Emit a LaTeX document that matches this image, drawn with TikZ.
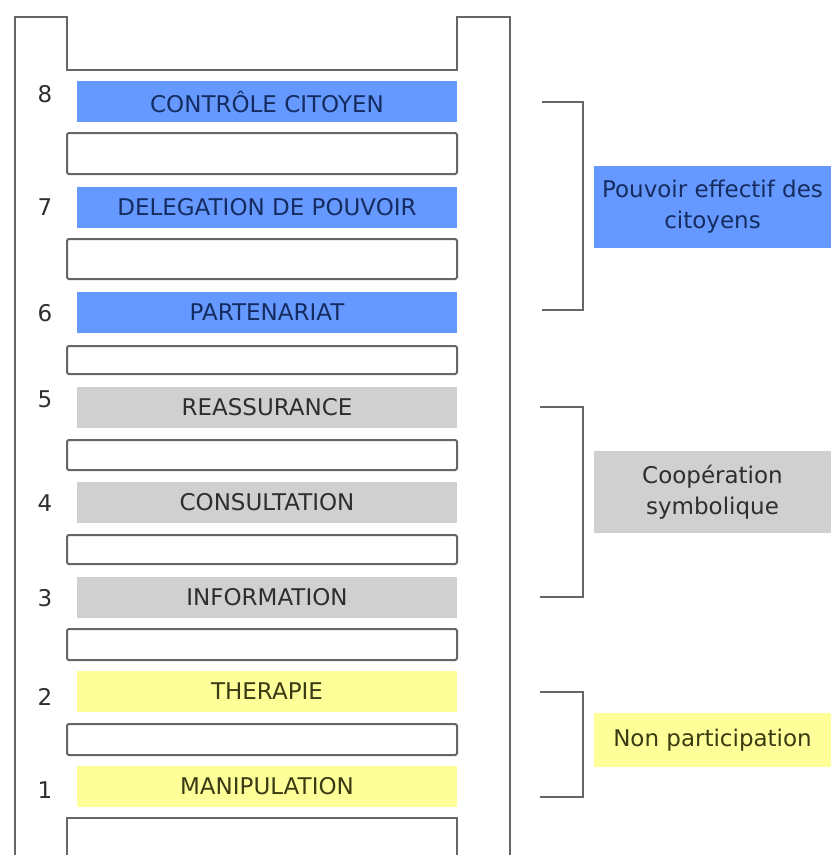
\documentclass[tikz,border=0pt]{standalone}
\usepackage{fontspec}
\setmainfont{DejaVu Sans}
\usepackage{tikz}
\usetikzlibrary{positioning}

\definecolor{barblue}{HTML}{6699FF}
\definecolor{bargray}{HTML}{D0D0D0}
\definecolor{baryellow}{HTML}{FFFF99}
\definecolor{txtblue}{HTML}{152C60}
\definecolor{txtgray}{HTML}{2E2E2E}
\definecolor{txtyellow}{HTML}{3A3A15}
\definecolor{linegray}{HTML}{666666}

\tikzset{
  big/.style={font=\fontsize{23}{31}\selectfont},
  bar/.style={big, minimum width=380pt, minimum height=41pt, inner sep=0pt},
  bluebar/.style={bar, fill=barblue, text=txtblue},
  graybar/.style={bar, fill=bargray, text=txtgray},
  yellowbar/.style={bar, fill=baryellow, text=txtyellow},
  rung/.style={draw=linegray, line width=2pt, fill=white, rounded corners=1.5pt},
  level/.style={big, text=txtgray, inner sep=0pt},
  bracket/.style={draw=linegray, line width=2pt},
  groupbox/.style={big, minimum width=237pt, inner sep=0pt, align=center}
}

\begin{document}
\begin{tikzpicture}[x=1pt, y=-1pt]
  \useasboundingbox (0,0) rectangle (831,855);

  % Ladder frame
  \draw[linegray, line width=2.2pt] (15,855) -- (15,17) -- (67,17) -- (67,70)
    -- (457,70) -- (457,17) -- (510,17) -- (510,855);

  % Empty rungs
  \draw[rung] (67,133) rectangle (457,174);
  \draw[rung] (67,239) rectangle (457,279);
  \draw[rung] (67,346) rectangle (457,374);
  \draw[rung] (67,440) rectangle (457,470);
  \draw[rung] (67,535) rectangle (457,564);
  \draw[rung] (67,629) rectangle (457,660);
  \draw[rung] (67,724) rectangle (457,755);
  \draw[rung, rounded corners=0pt] (67,856) -- (67,818) -- (457,818) -- (457,856);

  % Citizen power
  \node[bluebar] (controle) at (267,101.5) {CONTRÔLE CITOYEN};
  \node[bluebar] (delegation) at (267,207.5) {DELEGATION DE POUVOIR};
  \node[bluebar] (partenariat) at (267,312.5) {PARTENARIAT};

  % Tokenism
  \node[graybar] (reassurance) at (267,407.5) {REASSURANCE};
  \node[graybar] (consultation) at (267,502) {CONSULTATION};
  \node[graybar] (information) at (267,597) {INFORMATION};

  % Non participation
  \node[yellowbar] (therapie) at (267,691.5) {THERAPIE};
  \node[yellowbar] (manipulation) at (267,786) {MANIPULATION};

  % Level numbers
  \node[level] (n8) at (45,94) {8};
  \node[level] (n7) at (45,207) {7};
  \node[level] (n6) at (45,313) {6};
  \node[level] (n5) at (45,399) {5};
  \node[level] (n4) at (45,503) {4};
  \node[level] (n3) at (45,598) {3};
  \node[level] (n2) at (45,697) {2};
  \node[level] (n1) at (45,790) {1};

  % Brackets
  \draw[bracket] (542,102) -- (583,102) -- (583,310) -- (542,310);
  \draw[bracket] (540,407) -- (583,407) -- (583,597) -- (540,597);
  \draw[bracket] (540,692) -- (583,692) -- (583,797) -- (540,797);

  % Group labels
  \node[groupbox, fill=barblue, text=txtblue, minimum height=82pt] (pouvoir) at (712.5,207) {Pouvoir effectif des\\citoyens};
  \node[groupbox, fill=bargray, text=txtgray, minimum height=82pt] (cooperation) at (712.5,492) {Coopération\\symbolique};
  \node[groupbox, fill=baryellow, text=txtyellow, minimum height=54pt] (nonpart) at (712.5,740) {Non participation};
\end{tikzpicture}
\end{document}
